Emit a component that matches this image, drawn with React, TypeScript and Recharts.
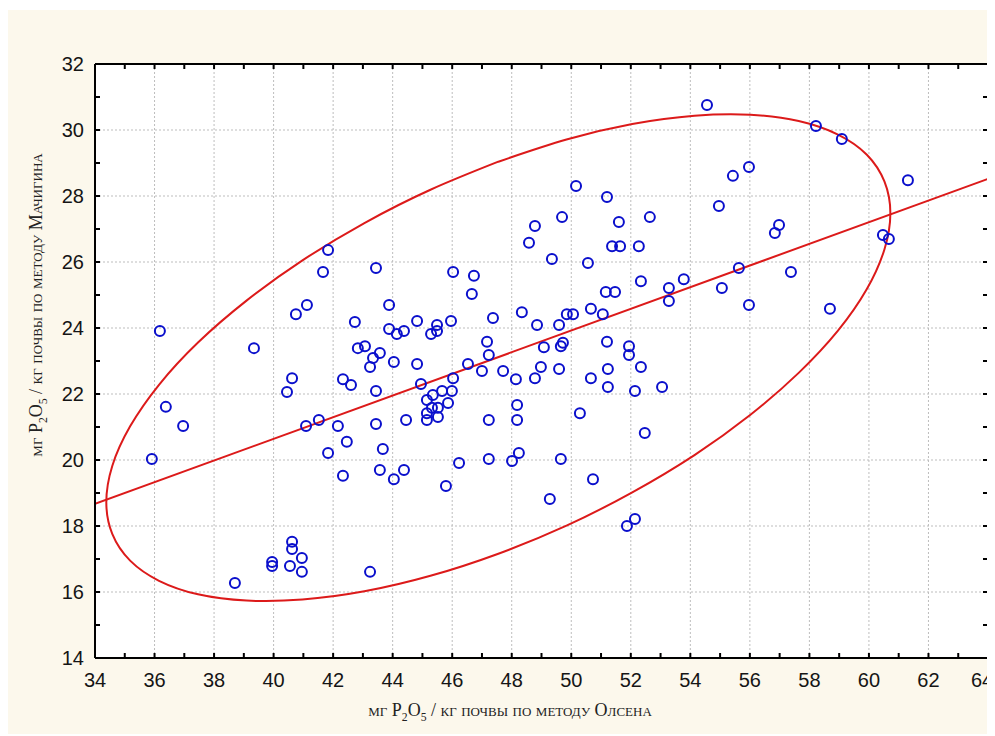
import { ComposedChart, Line, ReferenceLine, Scatter, XAxis, YAxis, ReferenceArea } from "recharts";

// [Olsen, Machigin] pairs, mg P2O5 / kg soil
const samples: [number, number][] = [
  [36.18, 23.91], [36.38, 21.61], [36.96, 21.03], [35.91, 20.03], [39.34, 23.39],
  [38.7, 16.27], [39.95, 16.91], [39.95, 16.79], [40.62, 17.52], [40.62, 17.3],
  [40.55, 16.79], [40.95, 17.03], [40.95, 16.61], [43.24, 16.61], [41.83, 26.36],
  [41.66, 25.7], [43.44, 25.82], [41.12, 24.7], [40.75, 24.42], [42.73, 24.18],
  [43.88, 24.7], [43.88, 23.97], [44.38, 23.91], [44.14, 23.82], [42.83, 23.39],
  [43.07, 23.45], [43.34, 23.09], [43.57, 23.24], [43.24, 22.82], [44.04, 22.97],
  [40.62, 22.48], [40.45, 22.06], [42.33, 22.45], [42.6, 22.27], [43.44, 22.09],
  [41.09, 21.03], [41.52, 21.21], [42.16, 21.03], [43.44, 21.09], [44.45, 21.21],
  [42.46, 20.55], [41.83, 20.21], [43.67, 20.33], [42.33, 19.52], [43.57, 19.7],
  [44.38, 19.7], [44.04, 19.42], [44.82, 24.21], [45.49, 24.09], [45.49, 23.91],
  [45.29, 23.82], [45.96, 24.21], [47.37, 24.3], [48.34, 24.48], [48.85, 24.09],
  [49.59, 24.09], [49.85, 24.42], [50.06, 24.42], [50.66, 24.58], [51.06, 24.42],
  [47.17, 23.58], [47.23, 23.18], [49.08, 23.42], [49.65, 23.45], [49.72, 23.55],
  [51.2, 23.58], [51.94, 23.45], [51.94, 23.18], [44.82, 22.91], [46.53, 22.91],
  [47.0, 22.7], [47.71, 22.7], [48.14, 22.45], [48.78, 22.48], [48.98, 22.82],
  [49.59, 22.76], [50.66, 22.48], [51.23, 22.76], [51.23, 22.21], [52.34, 22.82],
  [52.14, 22.09], [53.05, 22.21], [44.95, 22.3], [46.03, 22.48], [45.99, 22.09],
  [45.66, 22.09], [45.35, 21.97], [45.15, 21.82], [45.86, 21.73], [45.52, 21.58],
  [45.32, 21.58], [45.15, 21.42], [45.52, 21.3], [45.15, 21.21], [47.23, 21.21],
  [48.18, 21.67], [48.18, 21.21], [50.29, 21.42], [52.47, 20.82], [45.79, 19.21],
  [46.23, 19.91], [47.23, 20.03], [48.01, 19.97], [48.24, 20.21], [49.65, 20.03],
  [49.28, 18.82], [50.73, 19.42], [51.87, 18.0], [52.14, 18.21], [50.16, 28.3],
  [51.2, 27.97], [49.69, 27.36], [48.78, 27.09], [48.58, 26.58], [51.6, 27.21],
  [52.64, 27.36], [51.37, 26.48], [51.64, 26.48], [52.27, 26.48], [49.35, 26.09],
  [50.56, 25.97], [46.03, 25.7], [46.73, 25.58], [46.66, 25.03], [52.34, 25.42],
  [53.78, 25.48], [53.28, 25.21], [53.28, 24.82], [51.16, 25.09], [51.47, 25.09],
  [54.56, 30.76], [58.22, 30.12], [59.09, 29.73], [55.97, 28.88], [55.43, 28.61],
  [54.96, 27.7], [61.31, 28.48], [56.98, 27.12], [56.84, 26.88], [60.47, 26.82],
  [60.67, 26.7], [55.63, 25.82], [57.38, 25.7], [55.06, 25.21], [55.97, 24.7],
  [58.69, 24.58],
];

// confidence ellipse
const ellipse: [number, number][] = [
  [47.55, 29.04], [49.84, 29.71], [52.05, 30.18], [54.14, 30.43], [56.02, 30.46],
  [57.64, 30.27], [58.96, 29.86], [59.93, 29.25], [60.52, 28.44], [60.72, 27.48],
  [60.52, 26.38], [59.93, 25.18], [58.96, 23.92], [57.64, 22.64], [56.02, 21.37],
  [54.14, 20.15], [52.05, 19.02], [49.84, 18.01], [47.55, 17.16], [45.27, 16.49],
  [43.05, 16.02], [40.97, 15.77], [39.09, 15.74], [37.46, 15.93], [36.15, 16.34],
  [35.18, 16.95], [34.58, 17.76], [34.38, 18.72], [34.58, 19.82], [35.18, 21.02],
  [36.15, 22.28], [37.46, 23.56], [39.09, 24.83], [40.97, 26.05], [43.05, 27.18],
  [45.27, 28.19], [47.55, 29.04],
];

const regression: [number, number][] = [[34, 18.67], [64, 28.52]];

const xTicks = [34, 35, 36, 37, 38, 39, 40, 41, 42, 43, 44, 45, 46, 47, 48, 49, 50, 51, 52, 53, 54, 55, 56, 57, 58, 59, 60, 61, 62, 63, 64];
const yTicks = [14, 15, 16, 17, 18, 19, 20, 21, 22, 23, 24, 25, 26, 27, 28, 29, 30, 31, 32];
const xGrid = [36, 38, 40, 42, 44, 46, 48, 50, 52, 54, 56, 58, 60, 62];
const yGrid = [16, 18, 20, 22, 24, 26, 28, 30];

const toRows = (pairs: [number, number][]) => pairs.map(([x, y]) => ({ x, y }));

const blue = "#0a0fcc";
const red = "#dc1a1a";
const cream = "#fcf8ec";
const numFont = "'Liberation Sans', Arial, sans-serif";
const titleFont = "'Liberation Serif', 'Times New Roman', serif";
const frame = { stroke: "#000", strokeWidth: 2 };

const BottomTick = ({ x, y, payload }: any) => (
  <g>
    <line x1={x} x2={x} y1={y} y2={y - 5} stroke="#000" strokeWidth={2} />
    {payload.value % 2 === 0 && (
      <text
        x={payload.value === 64 ? x - 6 : x}
        y={y + 29}
        textAnchor="middle"
        fontFamily={numFont}
        fontSize={20}
        fill="#151515"
      >
        {payload.value}
      </text>
    )}
  </g>
);

const LeftTick = ({ x, y, payload }: any) => (
  <g>
    <line x1={x} x2={x + 5} y1={y} y2={y} stroke="#000" strokeWidth={2} />
    {payload.value % 2 === 0 && (
      <text x={x - 11} y={y + 7} textAnchor="end" fontFamily={numFont} fontSize={20} fill="#151515">
        {payload.value}
      </text>
    )}
  </g>
);

const TopTick = ({ x, y }: any) => <line x1={x} x2={x} y1={y} y2={y + 5} stroke="#000" strokeWidth={2} />;
const RightTick = ({ x, y }: any) => <line x1={x} x2={x - 5} y1={y} y2={y} stroke="#000" strokeWidth={2} />;

const Ring = ({ cx, cy }: any) => <circle cx={cx} cy={cy} r={5} fill="none" stroke={blue} strokeWidth={2} />;

const P2O5 = () => (
  <>
    P<sub style={{ fontSize: "0.65em" }}>2</sub>O<sub style={{ fontSize: "0.65em" }}>5</sub>
  </>
);

const titleStyle = {
  position: "absolute" as const,
  fontFamily: titleFont,
  fontSize: 18,
  fontVariant: "small-caps",
  color: "#222",
  whiteSpace: "nowrap" as const,
  lineHeight: "20px",
};

export default function App() {
  return (
    <div style={{ position: "relative", top: 2, width: 987, height: 726, background: cream }}>
      <ComposedChart width={987} height={726} margin={{ top: 52, right: 5, bottom: 0, left: 0 }}>
        <ReferenceArea x1={34} x2={64} y1={14} y2={32} fill="#fff" fillOpacity={1} stroke="none" ifOverflow="visible" />
        {xGrid.map((v) => (
          <ReferenceLine key={"gx" + v} x={v} stroke="#bdbdbd" strokeDasharray="2 2" />
        ))}
        {yGrid.map((v) => (
          <ReferenceLine key={"gy" + v} y={v} stroke="#bdbdbd" strokeDasharray="2 2" />
        ))}
        <XAxis
          type="number"
          dataKey="x"
          domain={[34, 64]}
          ticks={xTicks}
          interval={0}
          allowDataOverflow
          height={78}
          tickLine={false}
          tickSize={0}
          tickMargin={0}
          axisLine={frame}
          tick={(p: any) => <BottomTick {...p} />}
        />
        <XAxis
          xAxisId="top"
          orientation="top"
          type="number"
          dataKey="x"
          domain={[34, 64]}
          ticks={xTicks}
          interval={0}
          allowDataOverflow
          height={2}
          tickLine={false}
          tickSize={0}
          tickMargin={0}
          axisLine={frame}
          tick={(p: any) => <TopTick {...p} />}
        />
        <YAxis
          type="number"
          dataKey="y"
          domain={[14, 32]}
          ticks={yTicks}
          interval={0}
          allowDataOverflow
          width={87}
          tickLine={false}
          tickSize={0}
          tickMargin={0}
          axisLine={frame}
          tick={(p: any) => <LeftTick {...p} />}
        />
        <YAxis
          yAxisId="right"
          orientation="right"
          type="number"
          dataKey="y"
          domain={[14, 32]}
          ticks={yTicks}
          interval={0}
          allowDataOverflow
          width={2}
          tickLine={false}
          tickSize={0}
          tickMargin={0}
          axisLine={frame}
          tick={(p: any) => <RightTick {...p} />}
        />
        <Line
          data={toRows(regression)}
          dataKey="y"
          type="linear"
          stroke={red}
          strokeWidth={2}
          dot={false}
          activeDot={false}
          isAnimationActive={false}
        />
        <Line
          data={toRows(ellipse)}
          dataKey="y"
          type="natural"
          stroke={red}
          strokeWidth={2}
          dot={false}
          activeDot={false}
          isAnimationActive={false}
        />
        <Scatter data={toRows(samples)} dataKey="y" shape={(p: any) => <Ring {...p} />} isAnimationActive={false} />
      </ComposedChart>
      <div style={{ ...titleStyle, left: 502, top: 690, transform: "translateX(-50%)" }}>
        мг <P2O5 /> / кг почвы по методу Олсена
      </div>
      <div style={{ ...titleStyle, left: 32, top: 295, transform: "translate(-50%, -50%) rotate(-90deg)" }}>
        мг <P2O5 /> / кг почвы по методу Мачигина
      </div>
    </div>
  );
}
